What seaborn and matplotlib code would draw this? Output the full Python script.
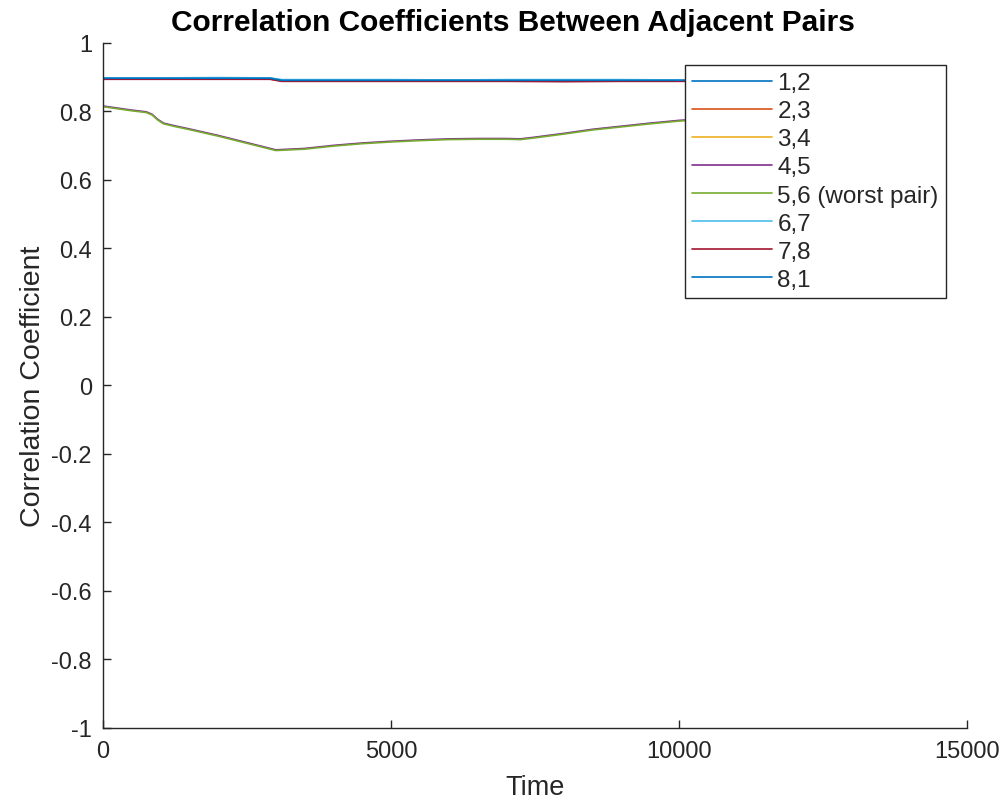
import matplotlib
matplotlib.use("Agg")
import matplotlib.pyplot as plt
import seaborn as sns
import pandas as pd

# ---- data ----
pair_labels = ["1,2", "2,3", "3,4", "4,5", "5,6 (worst pair)", "6,7", "7,8", "8,1"]

t_top = [0, 1000, 2000, 2900, 3100, 4000, 5000, 6000, 7000, 8000, 9000, 10000, 10500]
r_12 = [0.897, 0.897, 0.898, 0.897, 0.892, 0.891, 0.892, 0.891, 0.892, 0.891, 0.892, 0.891, 0.891]
r_23 = [0.895, 0.895, 0.896, 0.895, 0.889, 0.889, 0.890, 0.889, 0.889, 0.889, 0.890, 0.889, 0.889]
r_34 = [0.896, 0.896, 0.896, 0.896, 0.890, 0.890, 0.890, 0.890, 0.891, 0.890, 0.890, 0.890, 0.890]
r_67 = [0.898, 0.898, 0.899, 0.898, 0.893, 0.893, 0.893, 0.892, 0.893, 0.893, 0.893, 0.892, 0.892]
r_78 = [0.894, 0.894, 0.894, 0.894, 0.888, 0.888, 0.888, 0.888, 0.888, 0.887, 0.888, 0.888, 0.888]
r_81 = [0.897, 0.897, 0.897, 0.897, 0.891, 0.891, 0.891, 0.891, 0.891, 0.891, 0.891, 0.891, 0.891]

t_low = [0, 250, 500, 750, 850, 950, 1050, 1250, 1500, 2000, 2500, 3000, 3500, 4000, 4500,
         5000, 5500, 6000, 6500, 7000, 7250, 7500, 8000, 8500, 9000, 9500, 10000, 10500]
r_56 = [0.814, 0.808, 0.802, 0.797, 0.790, 0.775, 0.764, 0.756, 0.747, 0.728, 0.707, 0.686,
        0.690, 0.699, 0.706, 0.711, 0.715, 0.718, 0.719, 0.719, 0.718, 0.723, 0.734, 0.746,
        0.755, 0.764, 0.772, 0.777]
r_45 = [0.816, 0.810, 0.804, 0.799, 0.792, 0.777, 0.766, 0.758, 0.749, 0.730, 0.709, 0.688,
        0.692, 0.701, 0.708, 0.713, 0.717, 0.720, 0.721, 0.721, 0.720, 0.725, 0.736, 0.748,
        0.757, 0.766, 0.774, 0.779]

colors = ["#0072BD", "#D95319", "#EDB120", "#7E2F8E", "#77AC30", "#4DBEEE", "#A2142F", "#0072BD"]

series = {
    "1,2": (t_top, r_12),
    "2,3": (t_top, r_23),
    "3,4": (t_top, r_34),
    "4,5": (t_low, r_45),
    "5,6 (worst pair)": (t_low, r_56),
    "6,7": (t_top, r_67),
    "7,8": (t_top, r_78),
    "8,1": (t_top, r_81),
}
rows = []
for lab in pair_labels:
    ts, vs = series[lab]
    for tt, vv in zip(ts, vs):
        rows.append({"Time": tt, "r": vv, "pair": lab})
df = pd.DataFrame(rows)

# ---- plot ----
sns.set_theme(style="white")
plt.rcParams["font.family"] = ["Liberation Sans", "DejaVu Sans"]

fig = plt.figure(figsize=(10.06, 8.04), dpi=100)
ax = fig.add_axes([0.1024, 0.0933, 0.8588, 0.852])

sns.lineplot(data=df, x="Time", y="r", hue="pair", hue_order=pair_labels,
             palette=colors, linewidth=1.2, ax=ax, estimator=None, sort=False)

ax.set_xlim(0, 15000)
ax.set_ylim(-1, 1)
ax.set_xticks([0, 5000, 10000, 15000])
ax.set_xticklabels(["0", "5000", "10000", "15000"])
yt = [-1, -0.8, -0.6, -0.4, -0.2, 0, 0.2, 0.4, 0.6, 0.8, 1]
ax.set_yticks(yt)
ax.set_yticklabels(["-1", "-0.8", "-0.6", "-0.4", "-0.2", "0", "0.2", "0.4", "0.6", "0.8", "1"])

grey = "#262626"
for s in ["top", "right"]:
    ax.spines[s].set_visible(False)
for s in ["left", "bottom"]:
    ax.spines[s].set_color(grey)
    ax.spines[s].set_linewidth(1.0)
ax.tick_params(direction="in", length=6, width=1.0, colors=grey, labelsize=17,
               left=True, bottom=True, pad=8)
ax.tick_params(axis="x", pad=9)

ax.set_xlabel("Time", fontsize=19.5, color=grey, labelpad=8)
ax.set_ylabel("Correlation Coefficient", fontsize=20.5, color=grey, labelpad=4)
ax.set_title("Correlation Coefficients Between Adjacent Pairs", fontsize=21.5,
             fontweight="bold", color="black", pad=9, x=0.4745)

leg = ax.legend(loc="upper left", bbox_to_anchor=(0.6736, 0.968), borderaxespad=0,
                fontsize=17.5, handlelength=3.3, handletextpad=0.2, labelspacing=0.25,
                frameon=True, fancybox=False, edgecolor=grey, framealpha=1,
                borderpad=0.3)
leg.get_frame().set_linewidth(1.0)
for line in leg.get_lines():
    line.set_linewidth(1.2)

fig.savefig("out.png", dpi=100)
